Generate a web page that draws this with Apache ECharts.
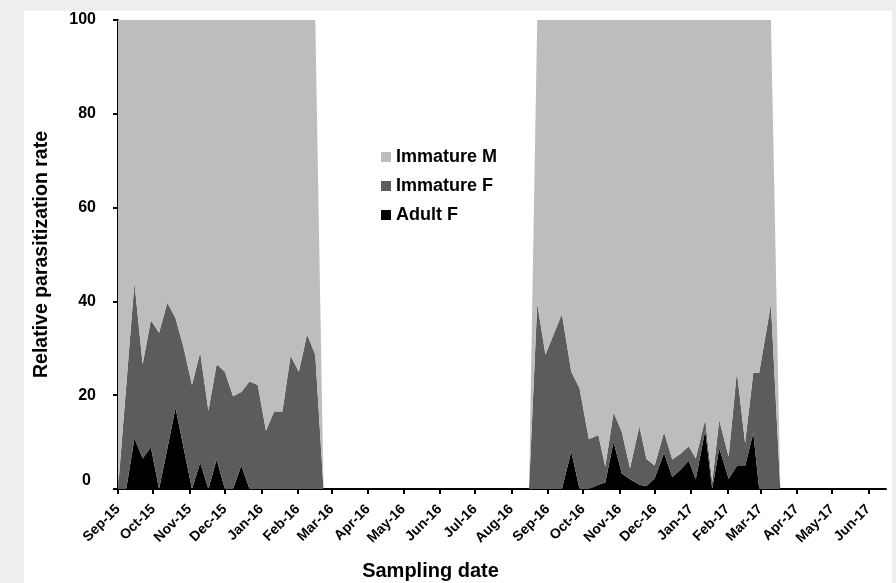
<!DOCTYPE html>
<html>
<head>
<meta charset="utf-8">
<script src="https://cdn.jsdelivr.net/npm/echarts@6/dist/echarts.min.js"></script>
<style>
  html, body { margin: 0; padding: 0; background: #eeeeee; }
  #chart { width: 896px; height: 583px; }
</style>
</head>
<body>
<div id="chart"></div>
<script>
// weekly sampling dates, two seasons (zero rows close each season)
var sampleDates = [
  '2015-09-01','2015-09-08','2015-09-15','2015-09-22','2015-09-29','2015-10-06','2015-10-13',
  '2015-10-20','2015-10-27','2015-11-03','2015-11-10','2015-11-17','2015-11-24','2015-12-01',
  '2015-12-08','2015-12-15','2015-12-22','2015-12-29','2016-01-05','2016-01-12','2016-01-19',
  '2016-01-26','2016-02-02','2016-02-09','2016-02-16','2016-02-23',
  '2016-08-16','2016-08-23','2016-08-30','2016-09-06','2016-09-13','2016-09-21','2016-09-28',
  '2016-10-06','2016-10-14','2016-10-20','2016-10-27','2016-11-03','2016-11-10','2016-11-18',
  '2016-11-24','2016-12-01','2016-12-09','2016-12-16','2016-12-23','2016-12-30','2017-01-05',
  '2017-01-13','2017-01-19','2017-01-25','2017-02-02','2017-02-09','2017-02-16','2017-02-23',
  '2017-02-28','2017-03-10','2017-03-18'
];

var adultF = [
  0, 0, 10.8, 6.5, 8.9, 0, 8.6, 17.3, 8.6, 0, 5.6, 0, 6.3, 0, 0, 5.0, 0, 0, 0, 0, 0, 0, 0, 0, 0, 0,
  0, 0, 0, 0, 0, 8.0, 0, 0, 0.9, 1.4, 10.1, 3.3, 2.1, 0.9, 0.6, 2.3, 7.7, 2.5, 4.1, 6.0, 2.1,
  12.5, 0, 8.7, 2.2, 4.9, 4.9, 12.0, 0, 0, 0
];

var immatureF = [
  0, 22, 33.2, 20.1, 27.1, 33.3, 31.1, 19.1, 21.4, 22.2, 23.5, 16.7, 20.3, 25.0, 19.8, 15.7, 22.9,
  22.2, 12.4, 16.5, 16.5, 28.4, 25.0, 33.0, 28.6, 0,
  0, 39.5, 28.6, 33.0, 37.3, 17.0, 21.5, 10.6, 10.6, 3.4, 6.2, 8.9, 2.3, 12.5, 5.8, 2.7, 4.4,
  3.8, 3.4, 3.1, 4.4, 2.3, 1.5, 6.0, 4.7, 20.1, 4.9, 12.8, 24.8, 39.4, 0
];

var immatureM = [
  100, 78, 56, 73.4, 64, 66.7, 60.3, 63.6, 70, 77.8, 70.9, 83.3, 73.4, 75, 80.2, 79.3, 77.1,
  77.8, 87.6, 83.5, 83.5, 71.6, 75, 67, 71.4, 0,
  0, 60.5, 71.4, 67.0, 62.7, 75.0, 78.5, 89.4, 88.5, 95.2, 83.7, 87.8, 95.6, 86.6, 93.6, 95.0,
  87.9, 93.7, 92.5, 90.9, 93.5, 85.2, 98.5, 85.3, 93.1, 75.0, 90.2, 75.2, 75.2, 60.6, 0
];

var monthTicks = [
  '2015-09-01','2015-10-01','2015-11-01','2015-12-01','2016-01-01','2016-02-01','2016-03-01',
  '2016-04-01','2016-05-01','2016-06-01','2016-07-01','2016-08-01','2016-09-01','2016-10-01',
  '2016-11-01','2016-12-01','2017-01-01','2017-02-01','2017-03-01','2017-04-01','2017-05-01',
  '2017-06-01'
];
var monthNames = ['Jan','Feb','Mar','Apr','May','Jun','Jul','Aug','Sep','Oct','Nov','Dec'];

var seriesNames = ['Adult F', 'Immature F', 'Immature M'];
var seriesColors = ['#000000', '#5c5c5c', '#bdbdbd'];

var font = "'Liberation Sans', Arial, sans-serif";
var DAY = 24 * 3600 * 1000;

function toTime(d) {
  var p = d.split('-');
  return Date.UTC(+p[0], +p[1] - 1, +p[2]);
}

function pairs(values) {
  return sampleDates.map(function(d, i) { return [toTime(d), values[i]]; });
}

var chart = echarts.init(document.getElementById('chart'));

var seriesValues = [adultF, immatureF, immatureM];

var option = {
  useUTC: true,
  backgroundColor: '#eeeeee',
  animation: false,
  graphic: [{
    type: 'rect',
    z: -100,
    shape: { x: 24, y: 11, width: 868, height: 572 },
    style: { fill: '#ffffff' }
  }],
  grid: { left: 118, right: 10, top: 20, bottom: 94, outerBoundsMode: 'none', containLabel: false },
  legend: {
    orient: 'vertical',
    left: 376,
    top: 143,
    icon: 'rect',
    itemWidth: 10,
    itemHeight: 10,
    itemGap: 11,
    data: ['Immature M', 'Immature F', 'Adult F'],
    textStyle: { fontFamily: font, fontWeight: 'bold', fontSize: 18, color: '#000' }
  },
  xAxis: {
    type: 'time',
    min: toTime('2015-09-01'),
    max: toTime('2017-06-16'),
    splitNumber: 22,
    minInterval: 28 * DAY,
    maxInterval: 31 * DAY,
    name: 'Sampling date',
    nameLocation: 'middle',
    nameGap: 72,
    nameTextStyle: { fontFamily: font, fontWeight: 'bold', fontSize: 20, color: '#000', padding: [0, 143, 0, 0] },
    axisLine: { lineStyle: { color: '#000', width: 2 } },
    axisTick: { show: true, customValues: monthTicks.map(toTime), length: 5, lineStyle: { color: '#000', width: 2 } },
    axisLabel: {
      rotate: 45,
      margin: 18,
      interval: 0,
      hideOverlap: false,
      fontFamily: font,
      fontWeight: 'bold',
      fontSize: 14,
      color: '#000',
      formatter: function(v) {
        var d = new Date(v);
        if (d.getUTCDate() !== 1) return '';
        return monthNames[d.getUTCMonth()] + '-' + String(d.getUTCFullYear()).slice(2);
      }
    },
    splitLine: { show: false }
  },
  yAxis: {
    type: 'value',
    min: 0,
    max: 100,
    interval: 20,
    name: 'Relative parasitization rate',
    nameLocation: 'middle',
    nameGap: 66,
    nameTextStyle: { fontFamily: font, fontWeight: 'bold', fontSize: 19.5, color: '#000' },
    axisLine: { show: true, lineStyle: { color: '#000', width: 2 } },
    axisTick: { show: true, length: 5, lineStyle: { color: '#000', width: 2 } },
    axisLabel: {
      margin: 22,
      fontFamily: font,
      fontWeight: 'bold',
      fontSize: 16,
      color: '#000',
      formatter: function(v) { return v === 0 ? '{z|0}' : String(v); },
      rich: { z: { fontFamily: font, fontWeight: 'bold', fontSize: 16, color: '#000', padding: [0, 5, 16, 0] } }
    },
    splitLine: { show: false }
  },
  series: seriesNames.map(function(name, i) {
    return {
      name: name,
      type: 'line',
      stack: 'rate',
      symbol: 'none',
      color: seriesColors[i],
      lineStyle: { width: 0 },
      areaStyle: { color: seriesColors[i], opacity: 1 },
      data: pairs(seriesValues[i])
    };
  })
};

chart.setOption(option);
</script>
</body>
</html>
